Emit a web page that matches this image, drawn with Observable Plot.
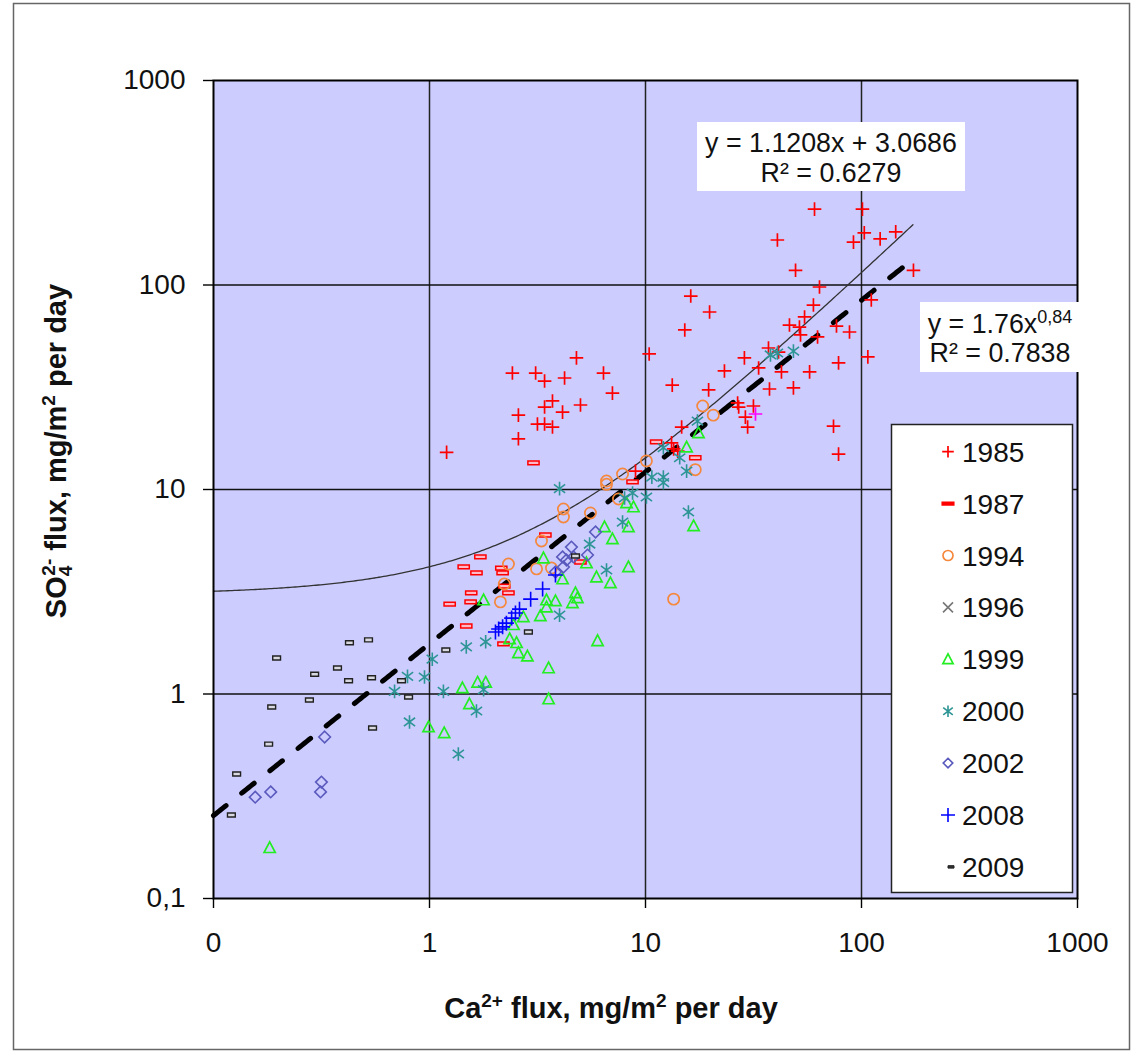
<!DOCTYPE html>
<html><head><meta charset="utf-8">
<script src="https://cdn.jsdelivr.net/npm/d3@7"></script>
<script src="https://cdn.jsdelivr.net/npm/@observablehq/plot@0.6"></script>
<style>html,body{margin:0;padding:0;background:#fff;overflow:hidden}</style>
</head><body><div id="chart"></div>
<script>
// ---- data (Ca2+ flux, SO4 flux), mg/m2 per day ----
const years = ["1985","1987","1994","1996","1999","2000","2002","2008","2009"];
const xTicks = [0.1, 1, 10, 100, 1000];
const xTickLabels = ["0", "1", "10", "100", "1000"];
const yTicks = [0.1, 1, 10, 100, 1000];
const yTickLabels = ["0,1", "1", "10", "100", "1000"];
const gridValues = [1, 10, 100];

const s1985 = [[1.20,15.2],[2.42,37.1],[3.10,37.1],[3.41,33.9],[4.22,35.1],[4.79,44.0],[6.39,37.1],[7.03,29.6],[3.71,27.1],[3.41,25.3],[4.13,23.9],[5.00,25.9],[2.58,23.1],[2.58,17.7],[3.16,20.9],[3.41,20.9],[3.71,20.2],[10.4,46.0],[16.2,88.3],[19.8,73.8],[15.2,60.3],[13.3,32.4],[19.6,30.7],[23.2,38.0],[14.7,20.2],[8.99,12.3],[13.2,16.9],[13.5,15.8],[14.1,15.4],[26.7,26.5],[31.6,25.6],[27.0,25.3],[29.0,22.6],[29.7,20.2],[74.2,20.4],[78.3,14.9],[60.6,235],[101,235],[40.8,166],[91.8,162],[103,180],[122,168],[144,182],[49.5,118],[174,118],[63.9,97.8],[111,84.5],[59.9,79.8],[54.5,69.8],[46.4,63.7],[51.6,62.3],[52.2,57.0],[76.6,63.0],[88.0,58.9],[62.6,55.7],[37.1,49.2],[41.3,47.0],[28.7,44.0],[33.4,39.3],[42.6,37.6],[57.5,37.6],[78.3,41.6],[107,44.5],[37.5,31.0],[48.4,31.4]];
const s1987 = [[3.03,13.5],[1.44,4.18],[1.72,4.68],[1.65,3.91],[2.15,4.13],[2.18,3.91],[2.22,3.37],[2.32,3.12],[1.56,3.12],[1.55,2.82],[1.24,2.75],[1.48,2.15],[3.44,5.99],[5.00,4.42],[2.20,1.76],[11.2,17.1],[17.0,14.3],[8.71,10.9]];
const s1994 = [[10.1,13.8],[7.83,11.9],[6.60,11.0],[6.60,10.6],[7.50,8.99],[4.17,8.03],[4.17,7.34],[5.56,7.68],[3.30,5.60],[2.32,4.32],[3.13,4.09],[3.67,4.13],[2.22,3.45],[2.13,2.82],[18.4,25.6],[20.6,23.1],[17.0,12.5],[13.5,2.91]];
const s1996 = [];
const s1999 = [[0.182,0.177],[0.99,0.690],[1.17,0.645],[1.42,1.07],[1.53,0.894],[1.67,1.14],[1.82,1.14],[3.56,1.34],[3.56,0.945],[2.58,1.59],[2.84,1.53],[2.35,1.86],[2.53,1.78],[2.45,2.18],[6.00,1.82],[2.72,2.38],[3.26,2.41],[3.48,2.66],[4.59,2.79],[4.84,2.95],[4.74,3.12],[3.48,2.88],[3.83,2.85],[1.78,2.88],[4.13,3.65],[3.37,4.62],[5.33,4.37],[5.93,3.73],[6.88,3.49],[8.34,4.18],[6.46,6.56],[8.34,6.56],[7.03,5.73],[8.17,8.59],[8.80,8.21],[16.7,6.63],[17.6,18.9],[15.5,16.1]];
const s2000 = [[0.689,1.03],[0.791,1.22],[0.808,0.730],[0.948,1.21],[1.03,1.48],[1.16,1.03],[1.36,0.509],[1.48,1.70],[1.82,1.80],[1.65,0.826],[1.78,1.05],[4.00,10.1],[4.00,2.43],[5.51,5.41],[6.60,4.04],[7.83,6.93],[8.00,9.09],[8.71,9.61],[10.1,9.19],[12.1,16.0],[14.4,14.3],[15.5,12.3],[10.7,11.5],[12.1,11.5],[12.1,10.8],[15.8,7.76],[17.4,21.6],[37.9,45.5],[40.8,46.5],[48.4,47.5]];
const s2002 = [[5.87,6.20],[4.54,5.23],[4.13,4.68],[4.31,4.52],[4.64,4.68],[5.39,4.78],[4.17,4.18],[3.83,3.95],[0.327,0.616],[0.156,0.313],[0.184,0.332],[0.316,0.371],[0.313,0.332]];
const s2008 = [[3.34,3.26],[2.94,2.91],[2.61,2.60],[2.50,2.49],[2.40,2.35],[2.27,2.22],[2.18,2.13],[2.09,2.08],[2.02,2.01],[3.83,3.82]];
const s2009 = [[0.196,1.50],[0.426,1.78],[0.522,1.84],[0.294,1.25],[0.375,1.34],[0.422,1.16],[0.539,1.20],[0.742,1.16],[1.19,1.64],[0.800,0.967],[0.278,0.935],[0.186,0.864],[0.545,0.682],[0.180,0.569],[0.128,0.406],[0.121,0.256],[4.74,4.73],[2.87,2.01]];
const sMagenta = [[32.3,23.4]];

// trendlines as printed on the chart
const linSlope = 1.1208, linIntercept = 3.0686, linR2 = "0.6279";
const powCoef = 1.76, powExp = 0.84, powR2 = "0.7838";
const trendXMin = 0.1, trendXMax = 173;

// ---- symbols ----
const plusSym = h => ({draw(c){c.moveTo(-h,0);c.lineTo(h,0);c.moveTo(0,-h);c.lineTo(0,h);}});
const barSym = (w,h) => ({draw(c){c.rect(-w,-h,2*w,2*h);}});
const circSym = r => ({draw(c){c.moveTo(r,0);c.arc(0,0,r,0,2*Math.PI);c.closePath();}});
const timesSym = h => ({draw(c){c.moveTo(-h,-h);c.lineTo(h,h);c.moveTo(-h,h);c.lineTo(h,-h);}});
const triSym = s => ({draw(c){c.moveTo(0,-s);c.lineTo(s*0.95,s*0.8);c.lineTo(-s*0.95,s*0.8);c.closePath();}});
const astSym = (h,dx,dy) => ({draw(c){c.moveTo(0,-h);c.lineTo(0,h);c.moveTo(-dx,-dy);c.lineTo(dx,dy);c.moveTo(-dx,dy);c.lineTo(dx,-dy);}});
const diamSym = s => ({draw(c){c.moveTo(0,-s);c.lineTo(s,0);c.lineTo(0,s);c.lineTo(-s,0);c.closePath();}});

const series = [
  {name:"1985", data:s1985, symbol:plusSym(6.8), stroke:"#FF0000", fill:"none", sw:1.7, leg:plusSym(5.8)},
  {name:"1987", data:s1987, symbol:barSym(5.6,1.9), stroke:"#FF0000", fill:"#FFB8C8", sw:1.5, leg:barSym(5.8,1.4), legFill:"#FF0000"},
  {name:"1994", data:s1994, symbol:circSym(5.6), stroke:"#F5883C", fill:"none", sw:1.7, leg:circSym(5)},
  {name:"1996", data:s1996, symbol:timesSym(4.5), stroke:"#777777", fill:"none", sw:1.6, leg:timesSym(5)},
  {name:"1999", data:s1999, symbol:triSym(5.9), stroke:"#22EE22", fill:"none", sw:1.7, leg:triSym(5.4)},
  {name:"2000", data:s2000, symbol:astSym(6.8,5.6,4.2), stroke:"#2E9595", fill:"none", sw:1.6, leg:astSym(5.8,4.8,3.6)},
  {name:"2002", data:s2002, symbol:diamSym(5.8), stroke:"#5A5ABE", fill:"none", sw:1.6, leg:diamSym(4.8)},
  {name:"2008", data:s2008, symbol:plusSym(7.5), stroke:"#0000FF", fill:"none", sw:1.6, leg:plusSym(7)},
  {name:"2009", data:s2009, symbol:barSym(3.9,2), stroke:"#222222", fill:"#d8d8e0", sw:1.4, leg:barSym(3,1.2), legFill:"#333", legSw:1}
];

const nT = 300;
const trendX = d3.range(nT+1).map(i => Math.pow(10, Math.log10(trendXMin) + i*(Math.log10(trendXMax)-Math.log10(trendXMin))/nT));
const linTrend = trendX.map(x => ({x, y: linSlope*x + linIntercept}));
const powTrend = trendX.map(x => ({x, y: powCoef*Math.pow(x, powExp)}));

const fmt = (ticks, labels) => d => labels[ticks.findIndex(t => Math.abs(t - d) / t < 1e-6)];
const FONT = "'Liberation Sans', Arial, sans-serif";

const marks = [
  Plot.frame({fill:"#CCCCFF", stroke:null}),
  Plot.ruleX(gridValues, {stroke:"#222", strokeWidth:1.5}),
  Plot.ruleY(gridValues, {stroke:"#111", strokeWidth:1.4}),
  Plot.axisX(xTicks, {tickFormat: fmt(xTicks, xTickLabels), tickSize:10, tickPadding:24, fontSize:28, strokeWidth:1.4, label:null, fill:"#111"}),
  Plot.axisY(yTicks, {tickFormat: fmt(yTicks, yTickLabels), tickSize:10, tickPadding:18, fontSize:28, strokeWidth:1.4, label:null, fill:"#111"}),
  Plot.line(linTrend, {x:"x", y:"y", stroke:"#333", strokeWidth:1.3}),
  Plot.line(powTrend, {x:"x", y:"y", stroke:"#000", strokeWidth:5, strokeDasharray:"16,20", strokeLinecap:"round"})
];
for (const s of series) {
  marks.push(Plot.dot(s.data, {x: d => d[0], y: d => d[1], symbol: s.symbol, r: 4, stroke: s.stroke, fill: s.fill, strokeWidth: s.sw}));
}
marks.push(Plot.dot(sMagenta, {x: d => d[0], y: d => d[1], symbol: plusSym(6.8), r:4, stroke:"#FF00FF", fill:"none", strokeWidth:1.7}));
marks.push(Plot.frame({stroke:"#000", strokeWidth:2}));

const plot = Plot.plot({
  width: 1143, height: 1064,
  marginLeft: 213, marginRight: 66, marginTop: 80, marginBottom: 166,
  style: {fontFamily: FONT, background: "#fff"},
  x: {type:"log", domain:[0.1, 1000], axis:null},
  y: {type:"log", domain:[0.1, 1000], axis:null},
  marks
});
document.getElementById("chart").appendChild(plot);

// ---- annotations (legend, equations, titles, outer border) ----
const svg = d3.select(plot);
svg.append("rect").attr("x",13.5).attr("y",3.5).attr("width",1116).attr("height",1046)
  .attr("fill","none").attr("stroke","#666").attr("stroke-width",1.5);

function eqBox(x, y, w, h) {
  svg.append("rect").attr("x",x).attr("y",y).attr("width",w).attr("height",h).attr("fill","#fff");
}
eqBox(697, 122, 268, 69);
svg.append("text").attr("x",831).attr("y",152).attr("text-anchor","middle")
  .attr("font-family",FONT).attr("font-size",26.8).attr("fill","#111")
  .text(`y = ${linSlope}x + ${linIntercept}`);
svg.append("text").attr("x",831).attr("y",182).attr("text-anchor","middle")
  .attr("font-family",FONT).attr("font-size",26.8).attr("fill","#111")
  .text(`R² = ${linR2}`);

eqBox(920, 302, 160, 70);
const t2 = svg.append("text").attr("x",1000).attr("y",333).attr("text-anchor","middle")
  .attr("font-family",FONT).attr("font-size",26.8).attr("fill","#111");
t2.append("tspan").text(`y = ${powCoef}x`);
t2.append("tspan").attr("dy",-10).attr("font-size",18).text(String(powExp).replace(".", ","));
svg.append("text").attr("x",1000).attr("y",362).attr("text-anchor","middle")
  .attr("font-family",FONT).attr("font-size",26.8).attr("fill","#111")
  .text(`R² = ${powR2}`);

// legend
const lg = svg.append("g");
lg.append("rect").attr("x",891.5).attr("y",424.5).attr("width",181).attr("height",468)
  .attr("fill","#fff").attr("stroke","#222").attr("stroke-width",1.5);
series.forEach((s, i) => {
  const cy = 451.7 + i * 51.9;
  const cx = s.name === "2009" ? 951 : 948;
  lg.append("path").attr("transform",`translate(${cx},${cy})`)
    .attr("d", d3.symbol(s.leg, 30)())
    .attr("fill", s.legFill || s.fill).attr("stroke", s.stroke).attr("stroke-width", s.legSw || s.sw);
  lg.append("text").attr("x",962).attr("y",cy).attr("dy","0.36em").attr("text-anchor","start")
    .attr("font-family",FONT).attr("font-size",28).attr("fill","#111").text(s.name);
});

// axis titles
const xt = svg.append("text").attr("x",611).attr("y",1018).attr("text-anchor","middle")
  .attr("font-family",FONT).attr("font-size",29).attr("font-weight","bold").attr("fill","#111");
xt.append("tspan").text("Ca");
xt.append("tspan").attr("dy",-11).attr("font-size",19).text("2+");
xt.append("tspan").attr("dy",11).text(" flux, mg/m");
xt.append("tspan").attr("dy",-11).attr("font-size",19).text("2");
xt.append("tspan").attr("dy",11).text(" per day");

const yt = svg.append("text").attr("transform","translate(66,451) rotate(-90)").attr("text-anchor","middle")
  .attr("font-family",FONT).attr("font-size",29).attr("font-weight","bold").attr("fill","#111");
yt.append("tspan").text("SO");
yt.append("tspan").attr("dy",6).attr("font-size",19).text("4");
yt.append("tspan").attr("dy",-17).attr("dx",-10).attr("font-size",19).text("2-");
yt.append("tspan").attr("dy",11).text(" flux, mg/m");
yt.append("tspan").attr("dy",-11).attr("font-size",19).text("2");
yt.append("tspan").attr("dy",11).text(" per day");
</script></body></html>
